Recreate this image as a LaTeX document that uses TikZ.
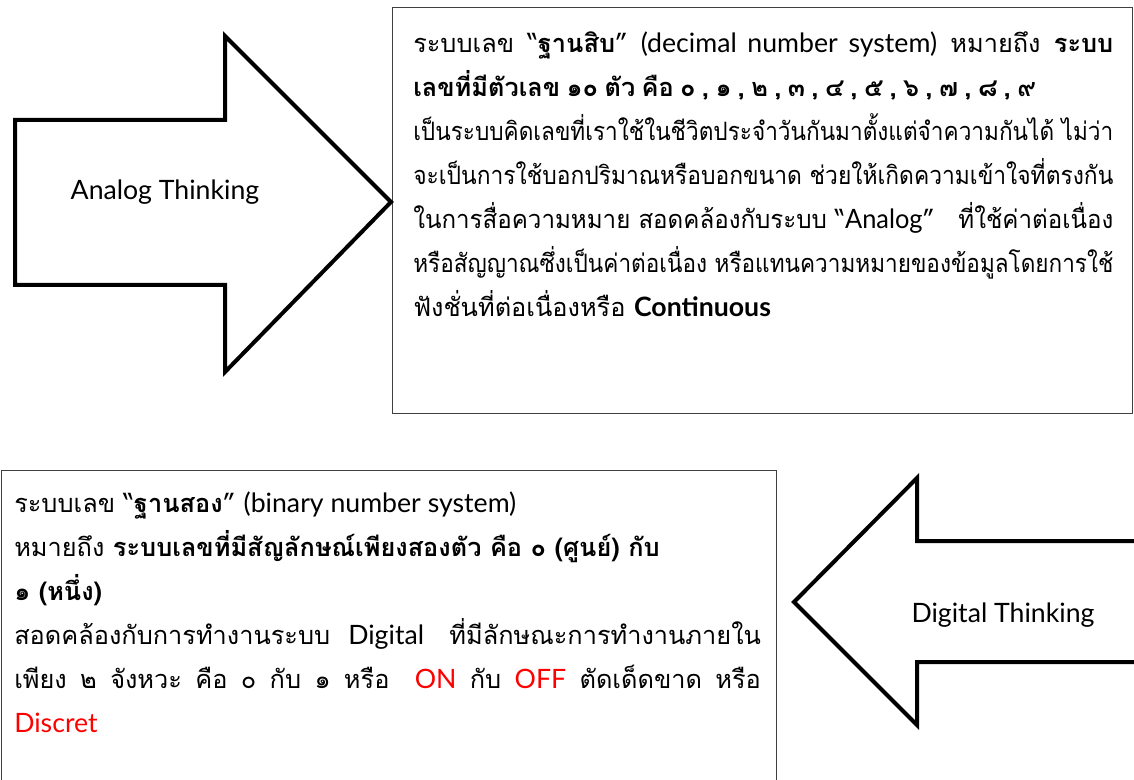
\documentclass[tikz,border=0pt]{standalone}
\usepackage{fontspec}
\setmainfont[Script=Thai]{Loma}
\newfontfamily\latfont{Lato}
\usepackage{graphicx}
\usepackage{xcolor}
\usetikzlibrary{positioning}
\definecolor{boxgray}{HTML}{404040}
\newsavebox\linebox
% one justified line: spread the spaces, or squash it if too long
\newcommand{\jline}[2]{\sbox\linebox{#2}%
  \ifdim\wd\linebox>#1\relax\resizebox{#1}{\height}{\usebox\linebox}\else\makebox[#1][s]{#2}\fi}
\newcommand{\lat}[1]{{\latfont\fontsize{20}{33}\selectfont #1}}
\newcommand{\tight}[1]{{\bfseries\spaceskip=0.75\fontdimen2\font #1}}

\tikzset{
  textbox/.style={draw=boxgray, line width=1.1pt, anchor=north west, inner sep=0pt},
  bigarrow/.style={draw=black, line width=3pt, line join=miter, fill=white},
  para/.style={anchor=north west, inner sep=0pt, align=left, font=\fontsize{19}{33}\selectfont},
  arrowtext/.style={font=\latfont\fontsize{20}{24}\selectfont}
}

\begin{document}
\begin{tikzpicture}[x=0.75pt, y=-0.75pt]
    \useasboundingbox (0,0) rectangle (1134,780);

    % upper part: decimal
    \node[textbox, minimum width=555pt, minimum height=304.5pt] (decbox) at (392,7) {};
    \draw[bigarrow] (15,120) -- (225,120) -- (225,36) -- coordinate[pos=1] (atip) (391,202)
      -- (225,372) -- (225,285) -- (15,285) -- cycle;
    \node[arrowtext] (analog) at (165,192) {Analog Thinking};
    \node[para] (dectext) at (413,31) {%
      \jline{525pt}{ระบบเลข “\textbf{ฐานสิบ}” \lat{(decimal number system)} หมายถึง \textbf{ระบบ}}\\
      \tight{เลขที่มีตัวเลข ๑๐ ตัว คือ ๐ , ๑ , ๒ , ๓ , ๔ , ๕ , ๖ , ๗ , ๘ , ๙}\\
      \jline{525pt}{เป็นระบบคิดเลขที่เราใช้ในชีวิตประจำวันกันมาตั้งแต่จำความกันได้ ไม่ว่า}\\
      \jline{525pt}{จะเป็นการใช้บอกปริมาณหรือบอกขนาด ช่วยให้เกิดความเข้าใจที่ตรงกัน}\\
      \jline{525pt}{ในการสื่อความหมาย สอดคล้องกับระบบ “\lat{Analog}”\quad ที่ใช้ค่าต่อเนื่อง}\\
      \jline{525pt}{หรือสัญญาณซึ่งเป็นค่าต่อเนื่อง หรือแทนความหมายของข้อมูลโดยการใช้}\\
      ฟังชั่นที่ต่อเนื่องหรือ \textbf{\lat{Continuous}}};

    % lower part: binary
    \node[textbox, minimum width=581pt, minimum height=260pt] (binbox) at (1,470) {};
    \draw[bigarrow] (1140,541) -- (917,541) -- (917,478) -- coordinate[pos=1] (btip) (794,602)
      -- (917,725) -- (917,662) -- (1140,662);
    \node[arrowtext] (digital) at (1003,615) {Digital Thinking};
    \node[para] (bintext) at (14,492) {%
      ระบบเลข “\textbf{ฐานสอง}” \lat{(binary number system)}\\
      หมายถึง \textbf{ระบบเลขที่มีสัญลักษณ์เพียงสองตัว คือ ๐ (ศูนย์) กับ}\\
      \textbf{๑ (หนึ่ง)}\\
      \jline{560pt}{สอดคล้องกับการทำงานระบบ \lat{Digital}\quad ที่มีลักษณะการทำงานภายใน}\\
      \jline{560pt}{เพียง ๒ จังหวะ คือ ๐ กับ ๑ หรือ\quad \textcolor{red}{\lat{ON}} กับ \textcolor{red}{\lat{OFF}} ตัดเด็ดขาด หรือ}\\
      \textcolor{red}{\lat{Discret}}};
\end{tikzpicture}
\end{document}
